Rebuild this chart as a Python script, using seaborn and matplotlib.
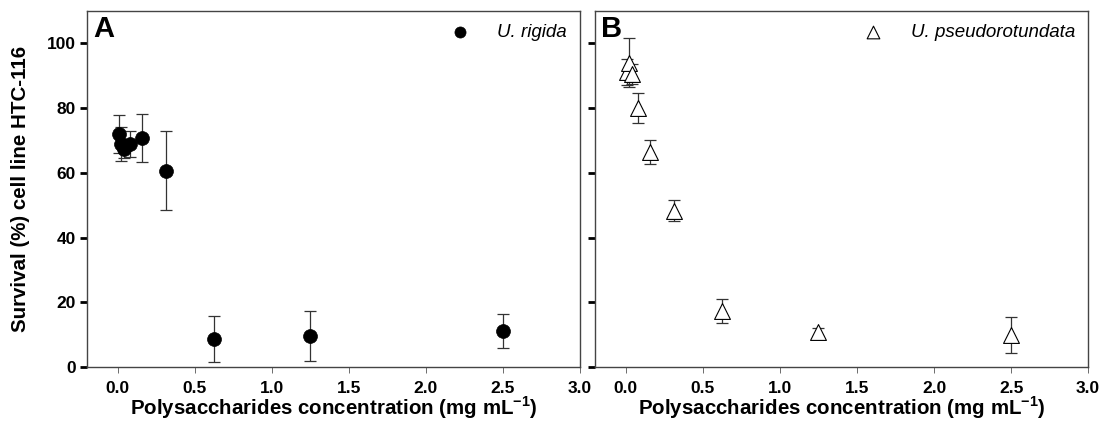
import numpy as np
import pandas as pd
import matplotlib
matplotlib.use("Agg")
import matplotlib.pyplot as plt
import seaborn as sns

# dati
conc = [0.0098, 0.0195, 0.039, 0.078, 0.156, 0.3125, 0.625, 1.25, 2.5]
rigida = [72.0, 69.0, 67.3, 69.0, 70.8, 60.6, 8.6, 9.6, 11.1]
rigida_err = [6.0, 5.3, 2.8, 4.0, 7.5, 12.2, 7.1, 7.7, 5.3]
pseudo = [91.0, 94.0, 90.5, 80.0, 66.5, 48.3, 17.3, 10.8, 9.8]
pseudo_err = [4.0, 7.5, 3.0, 4.5, 3.7, 3.3, 3.8, 1.3, 5.6]

x_ticks = [0.0, 0.5, 1.0, 1.5, 2.0, 2.5, 3.0]
y_ticks = [0, 20, 40, 60, 80, 100]

sns.set_style("white")
plt.rcParams['font.family'] = ['Liberation Sans', 'DejaVu Sans']
plt.rcParams['mathtext.fontset'] = 'custom'
plt.rcParams['mathtext.bf'] = 'Liberation Sans:bold'
plt.rcParams['mathtext.rm'] = 'Liberation Sans'
plt.rcParams['text.color'] = 'black'
plt.rcParams['axes.labelcolor'] = 'black'
plt.rcParams['xtick.labelcolor'] = 'black'
plt.rcParams['ytick.labelcolor'] = 'black'

df_a = pd.DataFrame({'conc': conc, 'surv': rigida, 'err': rigida_err})
df_b = pd.DataFrame({'conc': conc, 'surv': pseudo, 'err': pseudo_err})

fig = plt.figure(figsize=(11.02, 4.29), dpi=100)
ax_a = fig.add_axes([0.0789, 0.1445, 0.4474, 0.830])
ax_b = fig.add_axes([0.540, 0.1445, 0.4474, 0.830])

xlabel = r'Polysaccharides concentration (mg mL$^{\mathbf{-1}}$)'

# --- Pannello A ---
ax_a.errorbar(df_a['conc'], df_a['surv'], yerr=df_a['err'], fmt='none',
              ecolor='#333333', elinewidth=0.9, capsize=4, capthick=0.9, zorder=2)
sns.scatterplot(data=df_a, x='conc', y='surv', ax=ax_a, marker='o', s=100,
                color='black', edgecolor='black', linewidth=0.5, zorder=3,
                label='U. rigida')

# --- Pannello B ---
ax_b.errorbar(df_b['conc'], df_b['surv'], yerr=df_b['err'], fmt='none',
              ecolor='#333333', elinewidth=0.9, capsize=4, capthick=0.9, zorder=2)
sns.scatterplot(data=df_b, x='conc', y='surv', ax=ax_b, marker='^', s=130,
                facecolor='white', edgecolor='black', linewidth=0.8, zorder=3,
                label='U. pseudorotundata')

for ax, letter in [(ax_a, 'A'), (ax_b, 'B')]:
    ax.set_xlim(-0.2, 3.0)
    ax.set_ylim(0, 110)
    ax.set_xticks(x_ticks)
    ax.set_xticklabels([f'{t:.1f}' for t in x_ticks], fontweight='bold', fontsize=12.5)
    ax.set_yticks(y_ticks)
    ax.tick_params(axis='x', bottom=True, direction='out', length=4, width=0.6,
                   color='#555555', pad=6)
    ax.tick_params(axis='y', left=True, direction='out', length=5, width=2,
                   color='black', pad=3)
    ax.set_xlabel(xlabel, fontweight='bold', fontsize=14.8, labelpad=-1)
    for sp in ax.spines.values():
        sp.set_color('#444444')
        sp.set_linewidth(1.0)
    ax.text(0.012, 0.99, letter, transform=ax.transAxes, fontsize=21,
            fontweight='bold', va='top', ha='left')
    leg = ax.legend(loc='upper right', frameon=False, fontsize=13.5,
                    handletextpad=1.0, borderaxespad=0.3, markerscale=0.8)
    for t in leg.get_texts():
        t.set_fontstyle('italic')

ax_a.set_yticklabels([str(t) for t in y_ticks], fontweight='bold', fontsize=12.5)
ax_a.set_ylabel('Survival (%) cell line HTC-116', fontweight='bold', fontsize=14.8, labelpad=12)
ax_b.set_yticklabels([])
ax_b.set_ylabel('')

fig.savefig('out.png', dpi=100)
